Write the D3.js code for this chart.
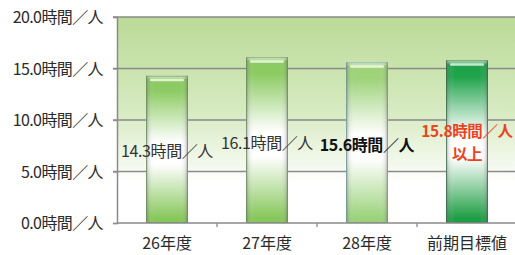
<!DOCTYPE html>
<html><head><meta charset="utf-8">
<script src="https://cdn.jsdelivr.net/npm/d3@7"></script>
<style>body{margin:0;background:#fff}svg{display:block}text{font-family:"Noto Sans CJK JP","Noto Sans",sans-serif}</style>
</head><body>
<svg id="c" width="515" height="255"></svg>
<script>
const categories = ["26年度", "27年度", "28年度", "前期目標値"];
const values = [14.3, 16.1, 15.6, 15.8];
const valueLabels = [["14.3時間／人"], ["16.1時間／人"], ["15.6時間／人"], ["15.8時間／人", "以上"]];
const yTicks = [0, 5, 10, 15, 20];
const unit = "時間／人";

(function () {
const svg = d3.select("#c");
const pL = 117, pR = 517, pT = 17, pB = 223;
const x = d3.scaleBand().domain(categories).range([pL, pR]).paddingInner(0.58).paddingOuter(0.29);
const y = d3.scaleLinear().domain([0, 20]).range([pB, pT]);

const defs = svg.append("defs");
const bg = defs.append("linearGradient").attr("id", "bg").attr("x1", 0).attr("y1", 0).attr("x2", 0).attr("y2", 1);
[[0, "#bbda97"], [0.45, "#d6eac0"], [0.72, "#f4f9ee"], [0.8, "#ffffff"], [1, "#ffffff"]].forEach(s => bg.append("stop").attr("offset", s[0]).attr("stop-color", s[1]));

const barStyles = [
  {top: "#8ccb62", bot: "#86c75a", edge: "#6d8f5c"},
  {top: "#8ccb62", bot: "#86c75a", edge: "#6d8f5c"},
  {top: "#9ed37a", bot: "#9bd27a", edge: "#6e9e9c"},
  {top: "#1ea24a", bot: "#1e9e44", edge: "#3a6a48"}
];
barStyles.forEach((s, i) => {
  const g = defs.append("linearGradient").attr("id", "bar" + i).attr("x1", 0).attr("y1", 0).attr("x2", 0).attr("y2", 1);
  [[0, "#e8f5dc"], [0.025, s.top], [0.1, s.top], [0.45, "#ffffff"], [0.6, "#ffffff"], [0.97, s.bot], [1, s.bot]]
    .forEach(st => g.append("stop").attr("offset", st[0]).attr("stop-color", st[1]));
});
const side = defs.append("linearGradient").attr("id", "side").attr("x1", 0).attr("y1", 0).attr("x2", 1).attr("y2", 0);
[[0, "#555", 0.55], [0.07, "#888", 0.15], [0.2, "#fff", 0], [0.8, "#fff", 0], [0.93, "#888", 0.15], [1, "#555", 0.55]]
  .forEach(st => side.append("stop").attr("offset", st[0]).attr("stop-color", st[1]).attr("stop-opacity", st[2]));

svg.append("rect").attr("x", pL).attr("y", pT).attr("width", 515 - pL).attr("height", pB - pT).attr("fill", "url(#bg)");

// gridlines
svg.append("g").selectAll("line").data(yTicks.filter(d => d > 0)).join("line")
  .attr("x1", pL - 4).attr("x2", 515).attr("y1", d => y(d)).attr("y2", d => y(d))
  .attr("stroke", "#8a8a8a").attr("stroke-width", 1.3);

// bars
const bars = svg.append("g").selectAll("g").data(categories).join("g");
bars.append("rect").attr("x", d => x(d)).attr("width", x.bandwidth())
  .attr("y", (d, i) => y(values[i])).attr("height", (d, i) => y(0) - y(values[i]))
  .attr("fill", (d, i) => "url(#bar" + i + ")");
bars.append("rect").attr("x", d => x(d)).attr("width", x.bandwidth())
  .attr("y", (d, i) => y(values[i])).attr("height", (d, i) => y(0) - y(values[i]))
  .attr("fill", "url(#side)");
bars.append("rect").attr("x", d => x(d) + 0.5).attr("width", x.bandwidth() - 1)
  .attr("y", (d, i) => y(values[i]) + 0.5).attr("height", (d, i) => y(0) - y(values[i]) - 1)
  .attr("fill", "none").attr("stroke", (d, i) => barStyles[i].edge).attr("stroke-width", 1).attr("stroke-opacity", 0.7);
bars.append("rect").attr("x", d => x(d) + 4).attr("width", x.bandwidth() - 8)
  .attr("y", (d, i) => y(values[i]) + 3).attr("height", 2.5).attr("rx", 1.2)
  .attr("fill", "#fff").attr("opacity", 0.75);

// axes
const yAxis = svg.append("g").attr("transform", `translate(${pL},0)`)
  .call(d3.axisLeft(y).tickValues(yTicks).tickSize(4).tickFormat(d => d3.format(".1f")(d) + unit));
yAxis.select(".domain").attr("stroke", "#8a8a8a").attr("stroke-width", 1.5);
yAxis.selectAll(".tick line").attr("stroke", "#8a8a8a").attr("stroke-width", 1.3);
yAxis.selectAll(".tick text").attr("x", -14).attr("dy", "0.36em").attr("font-size", 16).attr("fill", "#2a2a2a")
  .attr("letter-spacing", -0.6)
  .style("font-family", '"Noto Sans CJK JP",sans-serif');

const xAxis = svg.append("g").attr("transform", `translate(0,${pB})`)
  .call(d3.axisBottom(x).tickSize(0).tickPadding(0));
xAxis.select(".domain").attr("d", `M${pL},0H515`).attr("stroke", "#8a8a8a").attr("stroke-width", 1.5);
xAxis.selectAll(".tick text").attr("y", 26).attr("dy", 0).attr("font-size", 16).attr("fill", "#2a2a2a")
  .style("font-family", '"Noto Sans CJK JP",sans-serif');
svg.append("g").selectAll("line").data(categories.slice(1)).join("line")
  .attr("x1", d => x(d) - x.step() * x.paddingInner() / 2).attr("x2", d => x(d) - x.step() * x.paddingInner() / 2)
  .attr("y1", pB).attr("y2", pB + 4).attr("stroke", "#8a8a8a").attr("stroke-width", 1.3);

// value labels (multi-line labels as one text with tspans)
const labelBase = [157, 149, 151, 137];
const labelStyle = [
  {fill: "#333", weight: 400, size: 16}, {fill: "#333", weight: 400, size: 16},
  {fill: "#111", weight: 700, size: 16}, {fill: "#ec4420", weight: 700, size: 15.5}
];
categories.forEach((c, i) => {
  const cx = x(c) + x.bandwidth() / 2;
  const t = svg.append("text").attr("x", cx).attr("y", labelBase[i])
    .attr("text-anchor", "middle").attr("font-size", labelStyle[i].size).attr("letter-spacing", -0.4)
    .attr("font-weight", labelStyle[i].weight).attr("fill", labelStyle[i].fill);
  valueLabels[i].forEach((s, j) => {
    t.append("tspan").attr("x", cx).attr("dy", j === 0 ? 0 : 22.6).text(s);
  });
});
})();
</script>
</body></html>
